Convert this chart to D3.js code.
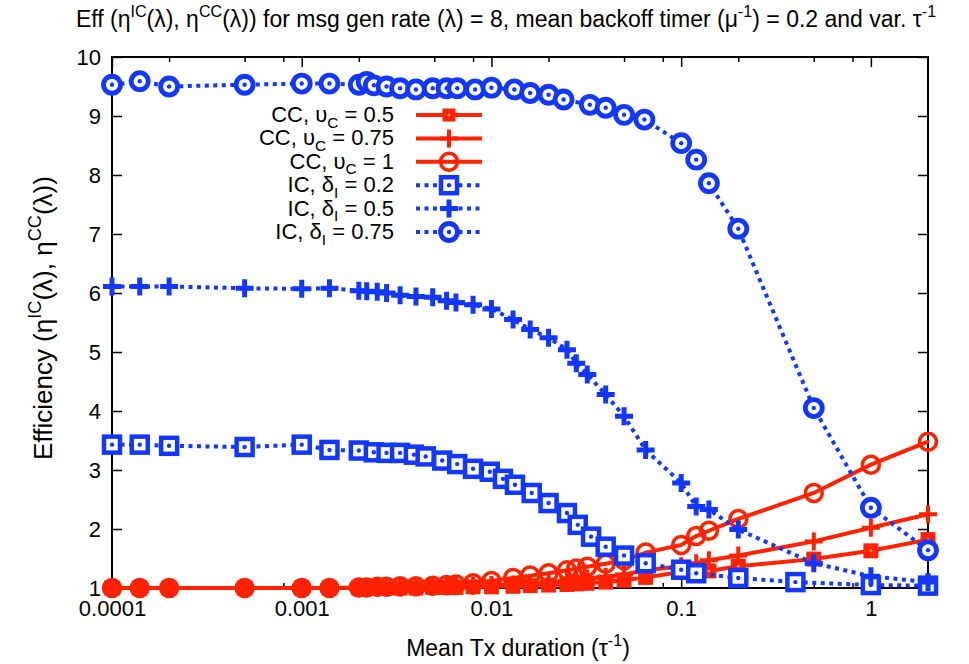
<!DOCTYPE html>
<html>
<head>
<meta charset="utf-8">
<script src="https://cdn.jsdelivr.net/npm/d3@7"></script>
<style>
  body { margin: 0; background: #fff; }
  svg text { font-family: "Liberation Sans", Arial, Helvetica, sans-serif; fill: #000; white-space: pre; }
</style>
</head>
<body>
<svg id="chart" width="969" height="664"></svg>
<script>
// Mean Tx duration (tau^-1) samples and efficiency values per series
const tauIC02 = [0.0001, 0.00014, 0.0002, 0.0005, 0.001, 0.0014, 0.002, 0.0024, 0.0028, 0.0033, 0.0039, 0.0045, 0.0055, 0.0066, 0.008, 0.0098, 0.0115, 0.0133, 0.0163, 0.02, 0.025, 0.0285, 0.0335, 0.04, 0.05, 0.065, 0.1, 0.12, 0.2, 0.4, 1, 2];
const effIC02 = [3.43, 3.43, 3.41, 3.39, 3.43, 3.34, 3.33, 3.30, 3.29, 3.29, 3.26, 3.23, 3.16, 3.10, 3.02, 2.97, 2.85, 2.75, 2.61, 2.44, 2.27, 2.07, 1.87, 1.70, 1.55, 1.42, 1.31, 1.25, 1.17, 1.10, 1.05, 1.04];

const tauIC05 = [0.0001, 0.00014, 0.0002, 0.0005, 0.001, 0.0014, 0.002, 0.0022, 0.0025, 0.0028, 0.0033, 0.004, 0.0049, 0.0058, 0.0065, 0.008, 0.01, 0.013, 0.016, 0.02, 0.025, 0.028, 0.032, 0.04, 0.05, 0.065, 0.1, 0.12, 0.14, 0.2, 0.5, 1, 2];
const effIC05 = [6.11, 6.11, 6.11, 6.08, 6.07, 6.08, 6.04, 6.03, 6.02, 6.00, 5.96, 5.94, 5.93, 5.87, 5.84, 5.80, 5.73, 5.55, 5.38, 5.24, 5.04, 4.81, 4.62, 4.28, 3.91, 3.34, 2.78, 2.38, 2.33, 1.99, 1.42, 1.20, 1.10];

const tauIC075 = [0.0001, 0.00014, 0.0002, 0.0005, 0.001, 0.0014, 0.002, 0.0022, 0.0024, 0.0028, 0.0033, 0.004, 0.0049, 0.0058, 0.0066, 0.0082, 0.01, 0.0132, 0.016, 0.02, 0.024, 0.033, 0.04, 0.05, 0.064, 0.1, 0.12, 0.14, 0.2, 0.5, 1, 2];
const effIC075 = [9.53, 9.59, 9.50, 9.53, 9.55, 9.55, 9.53, 9.58, 9.52, 9.50, 9.47, 9.45, 9.47, 9.47, 9.47, 9.45, 9.48, 9.45, 9.39, 9.36, 9.28, 9.19, 9.14, 9.02, 8.94, 8.54, 8.26, 7.86, 7.09, 4.05, 2.36, 1.64];

const tauCC = [0.0001, 0.00014, 0.0002, 0.0005, 0.001, 0.0014, 0.002, 0.0022, 0.0025, 0.0028, 0.0033, 0.004, 0.0049, 0.0058, 0.0065, 0.008, 0.01, 0.013, 0.016, 0.02, 0.025, 0.028, 0.032, 0.04, 0.05, 0.065, 0.1, 0.12, 0.14, 0.2, 0.5, 1, 2];
const effCC05 = [1.00, 1.00, 1.00, 1.00, 1.00, 1.00, 1.00, 1.00, 1.00, 1.00, 1.00, 1.00, 1.01, 1.01, 1.01, 1.02, 1.02, 1.03, 1.04, 1.05, 1.06, 1.07, 1.08, 1.10, 1.13, 1.18, 1.27, 1.27, 1.29, 1.37, 1.49, 1.63, 1.82];
const effCC075 = [1.00, 1.00, 1.00, 1.00, 1.00, 1.00, 1.00, 1.00, 1.01, 1.01, 1.01, 1.02, 1.02, 1.03, 1.03, 1.04, 1.05, 1.06, 1.08, 1.10, 1.12, 1.14, 1.16, 1.19, 1.23, 1.30, 1.37, 1.42, 1.47, 1.55, 1.79, 2.02, 2.25];
const effCC1 = [1.00, 1.00, 1.00, 1.00, 1.00, 1.00, 1.01, 1.01, 1.02, 1.02, 1.03, 1.03, 1.04, 1.05, 1.06, 1.08, 1.12, 1.17, 1.21, 1.25, 1.30, 1.33, 1.36, 1.41, 1.47, 1.60, 1.73, 1.88, 1.97, 2.17, 2.61, 3.09, 3.48];

// Axis ticks
const xMajorTicks = [0.0001, 0.001, 0.01, 0.1, 1];
const xMinorTicks = [0.0002, 0.0005, 0.0008, 0.002, 0.005, 0.008, 0.02, 0.05, 0.08, 0.2, 0.5, 0.8];
const xTickLabels = ["0.0001", "0.001", "0.01", "0.1", "1"];
const yTicks = [1, 2, 3, 4, 5, 6, 7, 8, 9, 10];

const RED = "#ff2200", BLUE = "#1238ff";
const FS = 23, TICK_FS = 22, YLAB_FS = 26;

// Series in drawing order (later ones on top)
const series = [
  { tau: tauCC, eff: effCC05, color: RED, dotted: false, marker: "fsquare", label: [["CC, υ"], ["C", "sub"], [" = 0.5"]] },
  { tau: tauCC, eff: effCC075, color: RED, dotted: false, marker: "plus", label: [["CC, υ"], ["C", "sub"], [" = 0.75"]] },
  { tau: tauCC, eff: effCC1, color: RED, dotted: false, marker: "circle", label: [["CC, υ"], ["C", "sub"], [" = 1"]] },
  { tau: tauIC02, eff: effIC02, color: BLUE, dotted: true, marker: "square", label: [["IC, δ"], ["I", "sub"], [" = 0.2"]] },
  { tau: tauIC05, eff: effIC05, color: BLUE, dotted: true, marker: "plus", label: [["IC, δ"], ["I", "sub"], [" = 0.5"]] },
  { tau: tauIC075, eff: effIC075, color: BLUE, dotted: true, marker: "circle", label: [["IC, δ"], ["I", "sub"], [" = 0.75"]] }
];

const svg = d3.select("#chart");
const M = { left: 112, right: 928, top: 57, bottom: 588 };

const x = d3.scaleLog().domain([0.0001, 2]).range([M.left, M.right]);
const y = d3.scaleLinear().domain([1, 10]).range([M.bottom, M.top]);

// Text with super/subscript runs
function rich(sel, parts, size) {
  let off = 0;
  parts.forEach(([s, kind]) => {
    const target = kind === "sup" ? -0.42 * size : kind === "sub" ? 0.25 * size : 0;
    sel.append("tspan")
      .attr("dy", target - off)
      .attr("font-size", kind ? size * 0.7 : size)
      .text(s);
    off = target;
  });
}

// Axes (ticks point inward, mirrored on top/right)
const axes = svg.append("g").attr("class", "axes");
function styleAxis(g) {
  g.select(".domain").remove();
  g.selectAll(".tick line").attr("stroke", "#000").attr("stroke-width", 1.5);
  g.selectAll(".tick text").attr("font-size", TICK_FS).attr("fill", "#000");
}
axes.append("g").attr("transform", `translate(${M.left},0)`)
  .call(d3.axisLeft(y).tickValues(yTicks).tickSize(-10).tickPadding(11).tickFormat(d3.format("d")))
  .call(styleAxis);
axes.append("g").attr("transform", `translate(${M.right},0)`)
  .call(d3.axisRight(y).tickValues(yTicks).tickSize(-10).tickFormat(""))
  .call(styleAxis);
axes.append("g").attr("transform", `translate(0,${M.bottom})`)
  .call(d3.axisBottom(x).tickValues(xMajorTicks).tickSize(-10).tickPadding(12)
    .tickFormat((d, i) => xTickLabels[i]))
  .call(styleAxis);
axes.append("g").attr("transform", `translate(0,${M.bottom})`)
  .call(d3.axisBottom(x).tickValues(xMinorTicks).tickSize(-5).tickFormat(""))
  .call(styleAxis);
axes.append("g").attr("transform", `translate(0,${M.top})`)
  .call(d3.axisTop(x).tickValues(xMajorTicks).tickSize(-10).tickFormat(""))
  .call(styleAxis);
axes.append("g").attr("transform", `translate(0,${M.top})`)
  .call(d3.axisTop(x).tickValues(xMinorTicks).tickSize(-5).tickFormat(""))
  .call(styleAxis);
axes.append("rect")
  .attr("x", M.left).attr("y", M.top)
  .attr("width", M.right - M.left).attr("height", M.bottom - M.top)
  .attr("fill", "none").attr("stroke", "#000").attr("stroke-width", 2);

// Marker shapes
function drawMarker(g, type, color, legend) {
  if (type === "fsquare") {
    const s = legend ? 13 : 15;
    g.append("rect").attr("x", -s / 2).attr("y", -s / 2).attr("width", s).attr("height", s).attr("fill", color);
    g.append("circle").attr("r", 1.5).attr("fill", "#ff8a70");
  } else if (type === "square") {
    const s = 16;
    g.append("rect").attr("x", -s / 2).attr("y", -s / 2).attr("width", s).attr("height", s)
      .attr("fill", "#fff").attr("stroke", color).attr("stroke-width", 4.5);
    g.append("circle").attr("r", 2.2).attr("fill", color);
  } else if (type === "plus") {
    const h = 9;
    g.append("path").attr("d", `M${-h},0H${h}M0,${-h}V${h}`)
      .attr("stroke", color).attr("stroke-width", color === BLUE ? 5 : 4).attr("fill", "none");
  } else if (type === "circle") {
    g.append("circle").attr("r", 8.5).attr("fill", color === BLUE ? "#fff" : "none")
      .attr("stroke", color).attr("stroke-width", color === BLUE ? 4.8 : 3.5);
    g.append("circle").attr("r", color === BLUE ? 2.2 : 1.6).attr("fill", color);
  }
}

const line = d3.line().x(d => x(d[0])).y(d => y(d[1]));
const plot = svg.append("g").attr("class", "series");

series.forEach(s => {
  const pts = s.tau.map((t, i) => [t, s.eff[i]]);
  const g = plot.append("g");
  g.append("path").attr("d", line(pts))
    .attr("fill", "none").attr("stroke", s.color)
    .attr("stroke-width", 4)
    .attr("stroke-dasharray", s.dotted ? "4,4.5" : null);
  g.selectAll("g.pt").data(pts).join("g").attr("class", "pt")
    .attr("transform", d => `translate(${x(d[0])},${y(d[1])})`)
    .each(function () { drawMarker(d3.select(this), s.marker, s.color, false); });
});

// Legend
const legend = svg.append("g").attr("class", "legend");
series.forEach((s, i) => {
  const ry = 115 + i * 23.4;
  const t = legend.append("text").attr("x", 394).attr("y", ry + 7)
    .attr("text-anchor", "end").attr("font-size", TICK_FS);
  rich(t, s.label, TICK_FS);
  legend.append("line").attr("x1", 416).attr("x2", 482).attr("y1", ry).attr("y2", ry)
    .attr("stroke", s.color).attr("stroke-width", 4)
    .attr("stroke-dasharray", s.dotted ? "4,4.5" : null);
  const mg = legend.append("g").attr("transform", `translate(449,${ry})`);
  drawMarker(mg, s.marker, s.color, true);
});

// Title and axis labels
const title = svg.append("text").attr("x", 506).attr("y", 27).attr("text-anchor", "middle").attr("font-size", FS);
rich(title, [["Eff (η"], ["IC", "sup"], ["(λ), η"], ["CC", "sup"], ["(λ)) for msg gen rate (λ) = 8, mean backoff timer (μ"], ["-1", "sup"], [") = 0.2 and var. τ"], ["-1", "sup"]], FS);

const ylab = svg.append("text").attr("transform", "translate(52,318) rotate(-90)")
  .attr("text-anchor", "middle").attr("font-size", YLAB_FS);
rich(ylab, [["Efficiency (η"], ["IC", "sup"], ["(λ), η"], ["CC", "sup"], ["(λ))"]], YLAB_FS);

const xlab = svg.append("text").attr("x", 518).attr("y", 656).attr("text-anchor", "middle").attr("font-size", FS);
rich(xlab, [["Mean Tx duration (τ"], ["-1", "sup"], [")"]], FS);
</script>
</body>
</html>
